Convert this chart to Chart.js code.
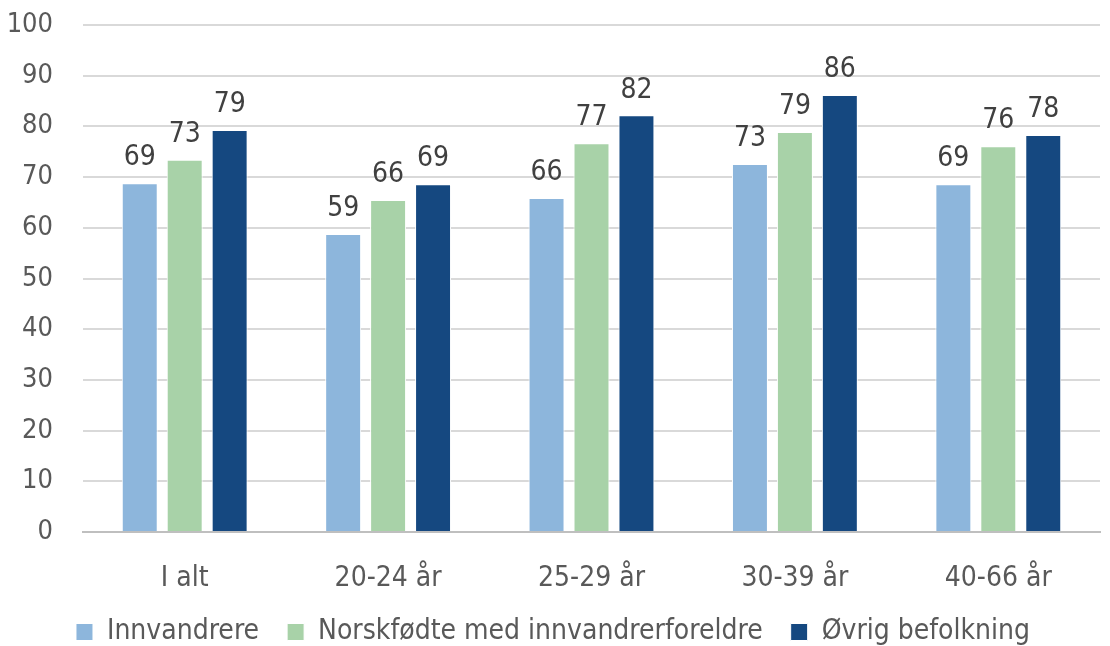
<!DOCTYPE html>
<html>
<head>
<meta charset="UTF-8">
<script src="https://cdn.jsdelivr.net/npm/chart.js"></script>
<style>
  html, body { margin: 0; padding: 0; background: #fff; }
  #wrap { width: 1110px; height: 646px; }
</style>
</head>
<body>
<div id="wrap"><canvas id="c"></canvas></div>
<script>
const categories = ['I alt', '20-24 år', '25-29 år', '30-39 år', '40-66 år'];
const innvandrere = [68.8, 58.8, 65.9, 72.6, 68.6];
const norskfodte = [73.4, 65.5, 76.7, 78.9, 76.1];
const ovrig = [79.3, 68.6, 82.2, 86.2, 78.3];
const seriesNames = ['Innvandrere', 'Norskfødte med innvandrerforeldre', 'Øvrig befolkning'];
const colors = ['#8db6dc', '#a8d2a8', '#154880'];

const FONT = '"DejaVu Sans Condensed", "DejaVu Sans", sans-serif';
const SIZE = 28;

// verdier over søylene
const valueLabels = {
  id: 'valueLabels',
  afterDatasetsDraw(chart) {
    const ctx = chart.ctx;
    ctx.save();
    ctx.font = SIZE + 'px ' + FONT;
    ctx.fillStyle = '#404040';
    ctx.textAlign = 'center';
    ctx.textBaseline = 'bottom';
    chart.data.datasets.forEach((ds, i) => {
      chart.getDatasetMeta(i).data.forEach((bar, j) => {
        ctx.fillText(Math.round(ds.data[j]), bar.x, bar.y - 11);
      });
    });
    ctx.restore();
  }
};

// legenden: bred avstand mellom elementene, men lav høyde
const legendHeight = {
  id: 'legendHeight',
  beforeLayout(chart) {
    const lg = chart.legend;
    if (lg && !lg._fixed) {
      const fit = lg.fit;
      lg.fit = function () { fit.call(this); this.height = 56; };
      lg._fixed = true;
    }
  }
};

new Chart(document.getElementById('c'), {
  type: 'bar',
  data: {
    labels: categories,
    datasets: [innvandrere, norskfodte, ovrig].map((d, i) => ({
      label: seriesNames[i],
      data: d,
      backgroundColor: colors[i],
      borderColor: '#ffffff',
      borderWidth: 1,
      categoryPercentage: 0.663,
      barPercentage: 0.8
    }))
  },
  options: {
    responsive: true,
    maintainAspectRatio: false,
    animation: false,
    layout: { padding: { left: 6, right: 10, top: 25, bottom: 0 } },
    plugins: {
      legend: {
        position: 'bottom',
        labels: {
          font: { family: FONT, size: SIZE },
          color: '#595959',
          boxWidth: 17,
          boxHeight: 17,
          padding: 28
        }
      },
      tooltip: { enabled: false }
    },
    scales: {
      x: {
        afterFit(scale) { scale.height = 58; },
        grid: { display: false },
        border: { color: '#bfbfbf', width: 2 },
        ticks: { font: { family: FONT, size: SIZE }, color: '#595959', padding: 22 }
      },
      y: {
        min: 0,
        max: 100,
        afterFit(scale) { scale.width = 77; },
        ticks: { stepSize: 10, font: { family: FONT, size: 27 }, color: '#595959', padding: 0 },
        grid: { color: '#d9d9d9', lineWidth: 2, drawTicks: true, tickLength: 30, tickColor: 'rgba(0,0,0,0)' },
        border: { display: false }
      }
    }
  },
  plugins: [valueLabels, legendHeight]
});
</script>
</body>
</html>
